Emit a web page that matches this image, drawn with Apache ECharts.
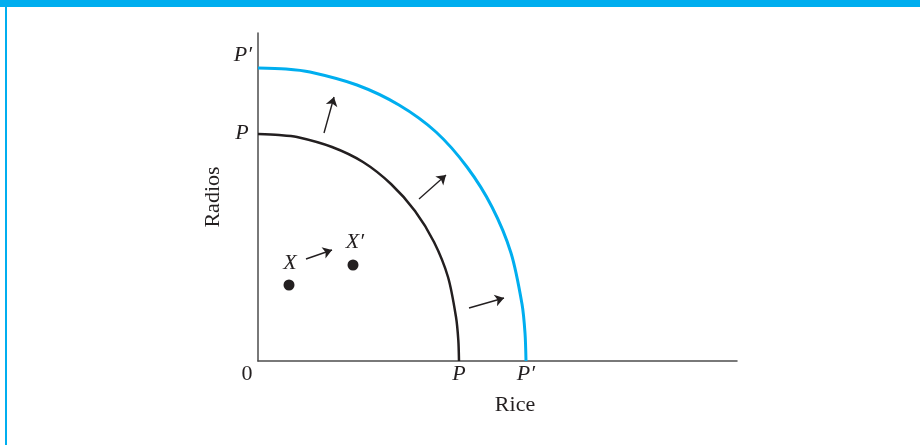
<!DOCTYPE html>
<html>
<head>
<meta charset="utf-8">
<script src="https://cdn.jsdelivr.net/npm/echarts@6/dist/echarts.min.js"></script>
<style>
  html, body { margin: 0; padding: 0; background: #fff; }
  #chart { width: 920px; height: 445px; }
</style>
</head>
<body>
<div id="chart"></div>
<script>
// curve points (rice, radios)
var oldFrontier = [[0, 227], [21, 226], [39, 224], [74, 214], [105, 199], [133, 177], [157, 150], [176, 119], [190, 84], [198, 44], [200.3, 21], [201, 0]]
var newFrontier = [[0, 293], [28, 292], [52, 289], [99, 276], [141, 256], [178, 229], [209, 194], [234, 154], [253, 108], [264, 57], [267, 28], [268, 0]]
// the two points X and X'
var pointX = [31, 76]
var pointX2 = [95, 96]
// shift arrows: [from, to]
var arrows = [
  [[66, 228], [76, 264]],
  [[161, 162], [188, 186]],
  [[211, 53], [246, 63]],
  [[48, 102], [74, 111]]
]
// text labels: [x, y, text, italic]
var labels = [
  [-15, 306, 'P′', true],
  [-16, 228, 'P', true],
  [-11, -13, '0', false],
  [201, -13, 'P', true],
  [268, -13, 'P′', true],
  [32, 98, 'X', true],
  [97, 119, 'X′', true],
  [257, -44, 'Rice', false]
]

var ink = '#231f20'
var blue = '#00aeef'
var serif = '"Liberation Serif", "DejaVu Serif", serif'

var chart = echarts.init(document.getElementById('chart'))
chart.setOption({
  animation: false,
  backgroundColor: '#fff',
  grid: { left: 258, right: 183, top: 33, bottom: 84 },
  xAxis: {
    type: 'value', min: 0, max: 479,
    axisLine: { lineStyle: { color: '#4d4d4d', width: 1.5 } },
    axisTick: { show: false }, axisLabel: { show: false }, splitLine: { show: false }
  },
  yAxis: {
    type: 'value', min: 0, max: 328,
    name: 'Radios', nameLocation: 'middle', nameGap: 34, nameRotate: 90,
    nameTextStyle: { fontFamily: serif, fontSize: 22, color: ink },
    axisLine: { show: true, lineStyle: { color: '#4d4d4d', width: 1.5 } },
    axisTick: { show: false }, axisLabel: { show: false }, splitLine: { show: false }
  },
  graphic: [
    { type: 'rect', shape: { x: 0, y: 0, width: 920, height: 7 }, style: { fill: blue } },
    { type: 'rect', shape: { x: 5, y: 0, width: 2, height: 445 }, style: { fill: blue } }
  ],
  series: [
    {
      type: 'line', data: oldFrontier, smooth: 0.3, showSymbol: false,
      lineStyle: { color: ink, width: 2.5 }
    },
    {
      type: 'line', data: newFrontier, smooth: 0.3, showSymbol: false,
      lineStyle: { color: blue, width: 3 }
    },
    {
      type: 'scatter', data: [pointX, pointX2], symbolSize: 11,
      itemStyle: { color: ink, opacity: 1 }
    },
    {
      type: 'lines', coordinateSystem: 'cartesian2d',
      symbol: ['none', 'arrow'], symbolSize: 9,
      lineStyle: { color: ink, width: 1.4, opacity: 1 },
      data: arrows.map(function (a) { return { coords: a } })
    },
    {
      type: 'scatter', clip: false, symbolSize: 0,
      itemStyle: { opacity: 1 },
      data: labels.map(function (l) {
        return {
          value: [l[0], l[1]],
          label: {
            show: true, position: 'inside', formatter: l[2],
            fontFamily: serif, fontSize: 22, color: ink,
            fontStyle: l[3] ? 'italic' : 'normal'
          }
        }
      })
    }
  ]
})
</script>
</body>
</html>
